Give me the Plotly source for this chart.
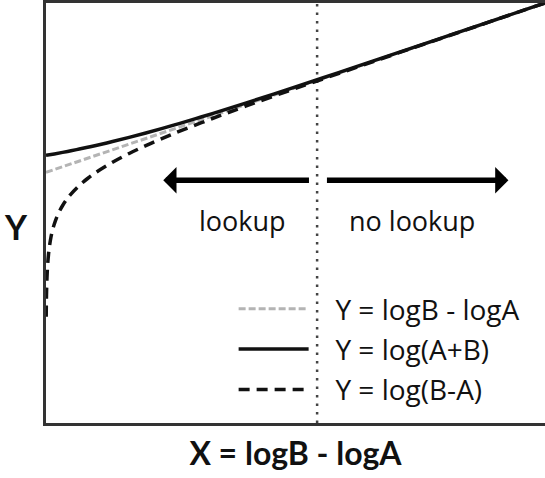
import plotly.graph_objects as go

# X = logB - logA, with logA taken as 0 so Y is read relative to logA
X_LINE = [0.0, 3.0]
Y_LINE = [0.0, 3.0]                      # Y = logB - logA

X_SUM = [0.0, 0.05, 0.1, 0.15, 0.2, 0.25, 0.3, 0.4, 0.5, 0.6, 0.7, 0.8, 0.9,
         1.0, 1.2, 1.5, 1.75, 2.0, 2.5, 3.0]
Y_SUM = [0.3010, 0.3268, 0.3539, 0.3825, 0.4124, 0.4438, 0.4764, 0.5455,
         0.6193, 0.6973, 0.7790, 0.8639, 0.9515, 1.0414, 1.2266, 1.5135,
         1.7577, 2.0043, 2.5014, 3.0004]          # Y = log(A+B)

X_DIFF = [0.0012, 0.002, 0.003, 0.0045, 0.006, 0.008, 0.01, 0.015, 0.02, 0.03,
          0.04, 0.05, 0.065, 0.08, 0.1, 0.125, 0.15, 0.2, 0.25, 0.3, 0.4, 0.5,
          0.6, 0.7, 0.8, 1.0, 1.2, 1.5, 2.0, 2.5, 3.0]
Y_DIFF = [-2.558, -2.3357, -2.1591, -1.9823, -1.8566, -1.7307, -1.6328,
          -1.4542, -1.3267, -1.1456, -1.0156, -0.9136, -0.7920, -0.6941,
          -0.5868, -0.4769, -0.3845, -0.2329, -0.1089, -0.0021, 0.1795,
          0.3349, 0.4744, 0.6033, 0.7251, 0.9542, 1.1717, 1.4861, 1.9956,
          2.4986, 2.9996]         # Y = log(B-A)

LABELS = ["Y = logB - logA", "Y = log(A+B)", "Y = log(B-A)"]
CUTOFF = 1.63            # boundary between the two regions
ARROW_Y = -0.14
LEFT_ARROW = (1.59, 0.705)     # tail, tip
RIGHT_ARROW = (1.68, 2.78)
REGION_TEXT = [("lookup", 1.18), ("no lookup", 2.2)]
TEXT_Y = -0.86

X_RANGE = [0.0, 3.0]
Y_RANGE = [-4.44, 3.0]

FONT = "Open Sans"
TITLE_FONT = "Lato"
PAD = "\u00a0" * 3       # gap between legend sample and its label

fig = go.Figure()
fig.add_trace(go.Scatter(
    x=X_LINE, y=Y_LINE, mode="lines", name=PAD + LABELS[0], legendgroup="a",
    line=dict(color="#b4b4b4", width=3, dash="7px,3px")))
fig.add_trace(go.Scatter(
    x=X_SUM, y=Y_SUM, mode="lines", name=PAD + LABELS[1], legendgroup="b",
    line=dict(color="#111111", width=3.5, shape="spline")))
fig.add_trace(go.Scatter(
    x=X_DIFF, y=Y_DIFF, mode="lines", name=PAD + LABELS[2], legendgroup="c",
    line=dict(color="#111111", width=3.5, dash="11px,7px", shape="spline")))

# dotted divider
fig.add_shape(type="line", x0=CUTOFF, x1=CUTOFF, xref="x", y0=0, y1=1, yref="paper",
              line=dict(color="#444444", width=2.5, dash="2.5px,6px"), layer="below")

# region arrows
for tail, tip in (LEFT_ARROW, RIGHT_ARROW):
    fig.add_annotation(x=tip, y=ARROW_Y, ax=tail, ay=ARROW_Y, xref="x", yref="y",
                       axref="x", ayref="y", text="", showarrow=True,
                       arrowhead=1, arrowsize=0.8, arrowwidth=5.5, arrowcolor="#000000")

for txt, xpos in REGION_TEXT:
    fig.add_annotation(x=xpos, y=TEXT_Y, xref="x", yref="y", text=txt,
                       showarrow=False, font=dict(family=FONT, size=27, color="#111111"))

# horizontal Y label
fig.add_annotation(x=0, y=-0.955, xref="paper", yref="y", text="<b>Y</b>",
                   showarrow=False, xanchor="right", xshift=-16,
                   font=dict(family=TITLE_FONT, size=34, color="#111111"))

fig.update_layout(
    width=545, height=478,
    margin=dict(l=46, r=0, t=3, b=55),
    paper_bgcolor="white", plot_bgcolor="white",
    showlegend=True,
    legend=dict(x=0.376, y=0.331, xanchor="left", yanchor="top",
                font=dict(family=FONT, size=28, color="#111111"),
                itemwidth=70, tracegroupgap=1, bgcolor="rgba(0,0,0,0)"),
    xaxis=dict(range=X_RANGE, showline=True, linecolor="#333333", linewidth=3,
               mirror=True, showgrid=False, zeroline=False, showticklabels=False,
               ticks="", title=dict(text="<b>X = logB - logA</b>", standoff=18,
                                    font=dict(family=TITLE_FONT, size=32, color="#111111"))),
    yaxis=dict(range=Y_RANGE, showline=True, linecolor="#333333", linewidth=3,
               mirror=False, showgrid=False, zeroline=False, showticklabels=False,
               ticks=""),
)

fig.write_html("out.html")
